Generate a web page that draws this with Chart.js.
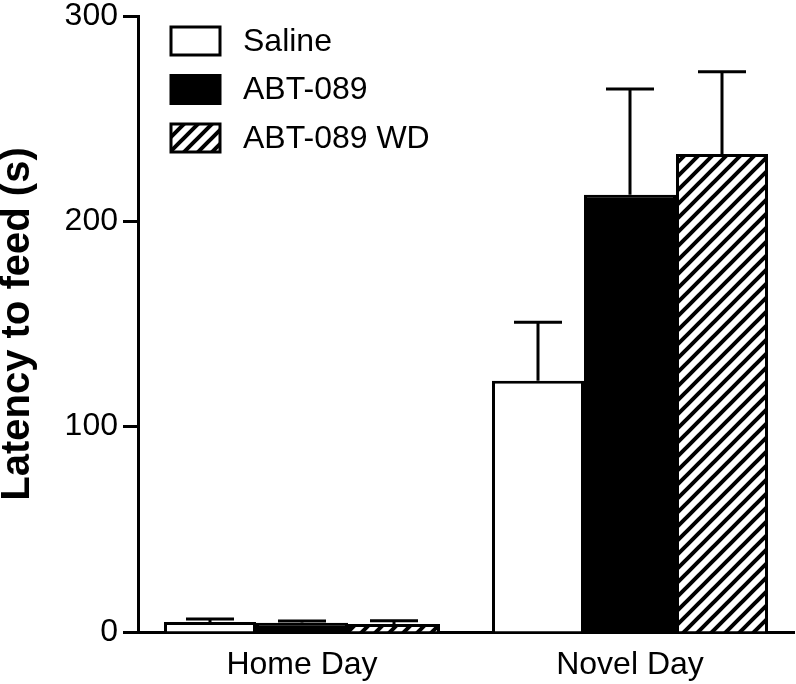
<!DOCTYPE html>
<html>
<head>
<meta charset="utf-8">
<script src="https://cdn.jsdelivr.net/npm/chart.js@4"></script>
<style>
    html, body { margin: 0; padding: 0; background: #ffffff; }
    #wrap { width: 796px; height: 684px; }
</style>
</head>
<body>
<div id="wrap"><canvas id="chart" width="796" height="684"></canvas></div>
<script>
// values
const categories = ['Home Day', 'Novel Day'];
const seriesNames = ['Saline', 'ABT-089', 'ABT-089 WD'];
const salineMeans = [4.9, 122.4];
const abtMeans = [4.5, 212.9];
const abtWdMeans = [3.9, 232.8];
const salineErrors = [1.4, 28.4];
const abtErrors = [0.9, 51.6];
const abtWdErrors = [1.6, 40.1];
const yTicks = [0, 100, 200, 300];

const FONT = "'Liberation Sans', Arial, Helvetica, sans-serif";

function makeHatch() {
    const s = 14;
    const c = document.createElement('canvas');
    c.width = s;
    c.height = s;
    const g = c.getContext('2d');
    g.fillStyle = '#ffffff';
    g.fillRect(0, 0, s, s);
    g.strokeStyle = '#000000';
    g.lineWidth = 4;
    g.beginPath();
    g.moveTo(-2, s + 2); g.lineTo(s + 2, -2);
    g.moveTo(-2, 2); g.lineTo(2, -2);
    g.moveTo(s - 2, s + 2); g.lineTo(s + 2, s - 2);
    g.stroke();
    return g.createPattern(c, 'repeat');
}

const hatch = makeHatch();

// upward error bars with a cap, drawn from each bar top
const errorBars = {
    id: 'errorBars',
    afterDatasetsDraw(chart) {
        const ctx = chart.ctx;
        const y = chart.scales.y;
        ctx.save();
        ctx.strokeStyle = '#000000';
        ctx.lineWidth = 3;
        chart.data.datasets.forEach((ds, i) => {
            const meta = chart.getDatasetMeta(i);
            meta.data.forEach((bar, j) => {
                const top = y.getPixelForValue(ds.data[j] + ds.errors[j]);
                const half = 24;
                ctx.beginPath();
                ctx.moveTo(bar.x, bar.y);
                ctx.lineTo(bar.x, top);
                ctx.moveTo(bar.x - half, top);
                ctx.lineTo(bar.x + half, top);
                ctx.stroke();
            });
        });
        ctx.restore();
    }
};

const boxLegend = {
    id: 'boxLegend',
    afterDraw(chart) {
        const ctx = chart.ctx;
        ctx.save();
        ctx.font = '32px ' + FONT;
        ctx.textBaseline = 'middle';
        chart.data.datasets.forEach((ds, i) => {
            const cy = 41 + i * 48.5;
            ctx.fillStyle = ds.backgroundColor;
            ctx.fillRect(171, cy - 14, 49, 28);
            ctx.strokeStyle = '#000000';
            ctx.lineWidth = 3;
            ctx.strokeRect(171, cy - 14, 49, 28);
            ctx.fillStyle = '#000000';
            ctx.fillText(ds.label, 243, cy + 1);
        });
        ctx.restore();
    }
};

const yTitle = {
    id: 'yTitle',
    afterDraw(chart) {
        const ctx = chart.ctx;
        const area = chart.chartArea;
        ctx.save();
        ctx.translate(29, (area.top + area.bottom) / 2);
        ctx.rotate(-Math.PI / 2);
        ctx.font = 'bold 40px ' + FONT;
        ctx.textAlign = 'center';
        ctx.textBaseline = 'alphabetic';
        ctx.fillStyle = '#000000';
        ctx.fillText('Latency to feed (s)', 0, 0);
        ctx.restore();
    }
};

new Chart(document.getElementById('chart'), {
    type: 'bar',
    data: {
        labels: categories,
        datasets: [
            {
                label: seriesNames[0],
                data: salineMeans,
                errors: salineErrors,
                backgroundColor: '#ffffff',
                borderColor: '#000000',
                borderWidth: 3
            },
            {
                label: seriesNames[1],
                data: abtMeans,
                errors: abtErrors,
                backgroundColor: '#000000',
                borderColor: '#000000',
                borderWidth: 3
            },
            {
                label: seriesNames[2],
                data: abtWdMeans,
                errors: abtWdErrors,
                backgroundColor: hatch,
                borderColor: '#000000',
                borderWidth: 3
            }
        ]
    },
    options: {
        responsive: false,
        animation: false,
        datasets: {
            bar: {
                barThickness: 92,
                inflateAmount: 0
            }
        },
        layout: {
            padding: { left: 0, right: 2, top: 16, bottom: 0 }
        },
        plugins: {
            legend: { display: false },
            tooltip: { enabled: false }
        },
        scales: {
            x: {
                grid: { display: false },
                border: { display: true, color: '#000000', width: 3 },
                ticks: {
                    color: '#000000',
                    font: { family: FONT, size: 32 },
                    padding: 6
                },
                afterFit(scale) {
                    scale.height = 52;
                    scale.paddingLeft = 0;
                    scale.paddingRight = 0;
                }
            },
            y: {
                min: 0,
                max: 300,
                afterBuildTicks(scale) {
                    scale.ticks = yTicks.map(v => ({ value: v }));
                },
                grid: {
                    drawOnChartArea: false,
                    drawTicks: true,
                    tickLength: 15,
                    tickColor: '#000000',
                    tickWidth: 3
                },
                border: { display: true, color: '#000000', width: 3 },
                ticks: {
                    color: '#000000',
                    font: { family: FONT, size: 32 },
                    padding: 5
                },
                afterFit(scale) {
                    scale.width = 138;
                    scale.paddingTop = 0;
                    scale.paddingBottom = 0;
                }
            }
        }
    },
    plugins: [errorBars, boxLegend, yTitle]
});
</script>
</body>
</html>
